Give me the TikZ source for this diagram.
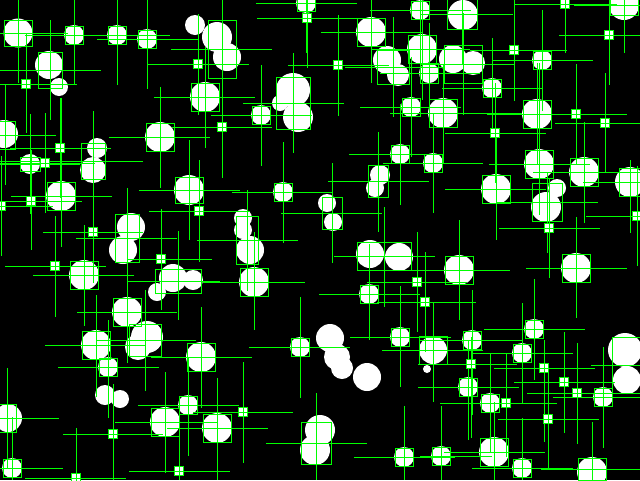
\documentclass[tikz,border=0pt]{standalone}
\usepackage{tikz}
\definecolor{gr}{RGB}{0,255,0}
\tikzset{gline/.style={draw=gr,line width=1pt},
  blob/.style={fill=white},
  sbox/.style={draw=gr,fill=white,line width=1pt}}
\begin{document}
\begin{tikzpicture}[x=1pt,y=-1pt]
\useasboundingbox (0,0) rectangle (640,480);
\clip (0,0) rectangle (640,480);
\fill[black] (0,0) rectangle (640,480);
% white blobs
\foreach \x/\y/\r in {
 18/33/14.5, 74/35/10, 117/35/10, 147/39/10, 205/97/15, 160/137/15, 4/134/14,
 30/164/10, 61/196/15, 189/190/15, 84/275/15, 127/312/15, 96/345/15, 108/367/10,
 201/357/15, 8/418/14, 12/468/10, 165/422/15, 188/405/10, 217/428/15, 300/347/10,
 404/457/10, 400/337/10, 472/340/10, 522/353/10, 468/387/10, 603/397/10, 490/403/10,
 441/456/10, 494/452/15, 522/468/10, 592/472/15, 433/163/10, 496/189/15, 539/164/15,
 584/172/15, 630/182/15, 459/270/15, 576/268/15, 534/329/10, 283/192/10, 400/154/10,
 254/282/15, 369/294/10, 306/3/10, 371/32/15, 420/10/10, 422/49/15, 429/73/10,
 411/107/10, 261/115/10, 624/5/15, 492/88/10, 542/60/10, 443/113/15, 537/114/15,
 49/65/14, 59/87/9,
 217/37/15, 227/57/14, 195/25/10,
 97/148/10, 93/170/13,
 131/227/14, 123/250/14,
 173/278/14, 193/280/10, 157/292/9,
 147/337/16, 138/347/13,
 105/395/10, 120/399/9,
 330/338/14, 337/357/13, 342/368/11, 367/377/14,
 320/430/15, 315/450/15,
 433/350/14, 427/369/4,
 625/350/17, 627/380/14,
 557/188/9, 546/207/15,
 327/203/9, 333/222/9,
 380/175/10, 375/188/9,
 243/218/9, 243/230/9, 250/250/14,
 370/254/14, 399/257/14,
 387/60/14, 398/75/11,
 293/90/17, 298/117/15, 280/103/8,
 463/15/15,
 453/59/14, 473/63/12}
 {\fill[blob] (\x,\y) circle (\r);}
% large boxes with crosses
\foreach \cx/\cy/\hw/\hh/\xa/\xb/\ya/\yb in {
 18/33/14/13/0/68/0/83,
 74/35/9/9/25/167/0/85,
 117/35/9/9/70/170/0/85,
 147/39/9/9/97/198/0/89,
 50/70/12/18/0/101/20/120,
 222/49/14/29/171/272/0/160,
 205/97/14/14/154/255/47/148,
 160/137/14/14/109/210/87/188,
 5/135/10/14/0/56/85/185,
 93/161/12/18/0/143/111/283,
 30/164/10/7/0/80/114/214,
 61/196/14/14/11/112/98/247,
 189/190/14/13/139/240/140/240,
 127/238/12/24/76/177/188/288,
 178/281/23/12/127/220/231/320,
 84/275/14/14/33/134/225/326,
 127/312/14/14/77/177/262/363,
 96/345/14/14/45/146/295/397,
 108/367/9/9/58/159/320/418,
 145/340/16/16/97/196/290/391,
 201/357/14/14/151/252/307/408,
 7/418/9/14/0/59/368/468,
 12/468/9/9/0/63/417/480,
 165/422/14/14/115/217/372/473,
 188/405/9/9/138/239/357/456,
 217/428/14/14/167/268/378/480,
 300/347/9/9/249/350/297/398,
 316/443/15/21/266/367/393/480,
 404/457/9/9/354/455/406/480,
 400/337/9/9/350/451/286/387,
 433/350/14/14/382/483/302/402,
 472/340/9/9/420/522/290/415,
 522/353/9/9/473/573/303/403,
 468/387/9/9/418/519/340/440,
 603/397/9/9/553/640/347/448,
 490/403/9/9/440/541/353/453,
 441/456/9/9/420/492/406/480,
 494/452/14/14/444/545/402/480,
 522/468/9/9/472/573/418/480,
 592/469/14/11/541/640/422/480,
 433/163/9/9/383/483/113/213,
 496/189/14/14/445/546/130/240,
 539/164/14/14/489/590/63/215,
 547/202/15/19/497/598/173/253,
 584/172/14/14/533/640/122/223,
 630/182/11/14/583/640/160/233,
 459/270/14/14/412/510/220/320,
 576/268/14/14/526/627/217/318,
 534/329/9/9/484/585/279/380,
 283/192/9/9/232/333/142/243,
 332/213/10/16/281/382/163/263,
 378/181/10/16/328/429/132/232,
 400/154/9/9/349/430/104/205,
 247/240/11/24/197/298/190/291,
 254/282/14/14/203/305/232/330,
 384/256/27/14/334/435/207/307,
 369/294/9/9/319/420/244/340,
 306/3/9/8/256/357/0/53,
 371/32/14/14/321/422/0/83,
 393/67/16/17/345/445/17/117,
 420/10/9/9/370/471/0/63,
 422/49/14/14/372/470/0/100,
 429/73/9/10/380/480/23/123,
 411/107/9/9/360/461/57/157,
 261/115/9/9/211/312/65/166,
 293/103/17/26/243/344/53/153,
 462/14/15/15/420/513/0/65,
 624/5/14/10/574/640/0/53,
 463/64/19/19/420/515/13/115,
 492/88/9/9/442/543/38/138,
 542/60/9/9/493/593/10/111,
 443/113/14/14/390/522/64/164,
 537/114/14/14/487/627/63/164}
 {\draw[gline] (\cx-\hw,\cy-\hh) rectangle (\cx+\hw,\cy+\hh);
  \draw[gline] (\xa,\cy) -- (\xb,\cy);
  \draw[gline] (\cx,\ya) -- (\cx,\yb);}
% right edge box without vertical
\draw[gline] (612,337) rectangle (648,393);
\draw[gline] (591,365) -- (640,365);
% small boxes with crosses
\foreach \cx/\cy/\xa/\xb/\ya/\yb in {
 26/84/0/77/33/133,
 198/64/147/249/14/115,
 222/127/172/272/77/178,
 60/148/10/111/98/198,
 45/163/0/95/113/213,
 31/201/0/82/150/250,
 1/206/0/53/156/256,
 199/211/149/250/160/262,
 93/232/43/143/182/283,
 161/259/127/212/209/310,
 55/266/5/106/216/317,
 113/434/63/163/384/480,
 76/478/25/126/428/480,
 179/471/129/230/420/480,
 243/412/193/293/362/463,
 471/364/418/517/337/438,
 544/368/494/595/340/442,
 564/382/514/615/332/433,
 577/393/527/628/343/444,
 506/403/456/557/353/457,
 548/419/498/599/370/470,
 637/216/586/640/166/266,
 549/228/499/600/178/278,
 417/282/367/467/232/332,
 425/302/377/476/252/352,
 307/18/257/357/0/68,
 338/65/288/389/15/116,
 565/4/515/617/0/53,
 609/35/559/640/0/85,
 514/50/470/567/0/101,
 576/114/526/627/64/164,
 605/123/555/640/73/173,
 495/133/445/546/83/183}
 {\draw[gline] (\xa,\cy) -- (\xb,\cy);
  \draw[gline] (\cx,\ya) -- (\cx,\yb);
  \draw[sbox] (\cx-4.5,\cy-4.5) rectangle (\cx+4.5,\cy+4.5);
  \draw[gline] (\cx-4.5,\cy) -- (\cx+4.5,\cy);
  \draw[gline] (\cx,\cy-4.5) -- (\cx,\cy+4.5);}
\end{tikzpicture}
\end{document}
